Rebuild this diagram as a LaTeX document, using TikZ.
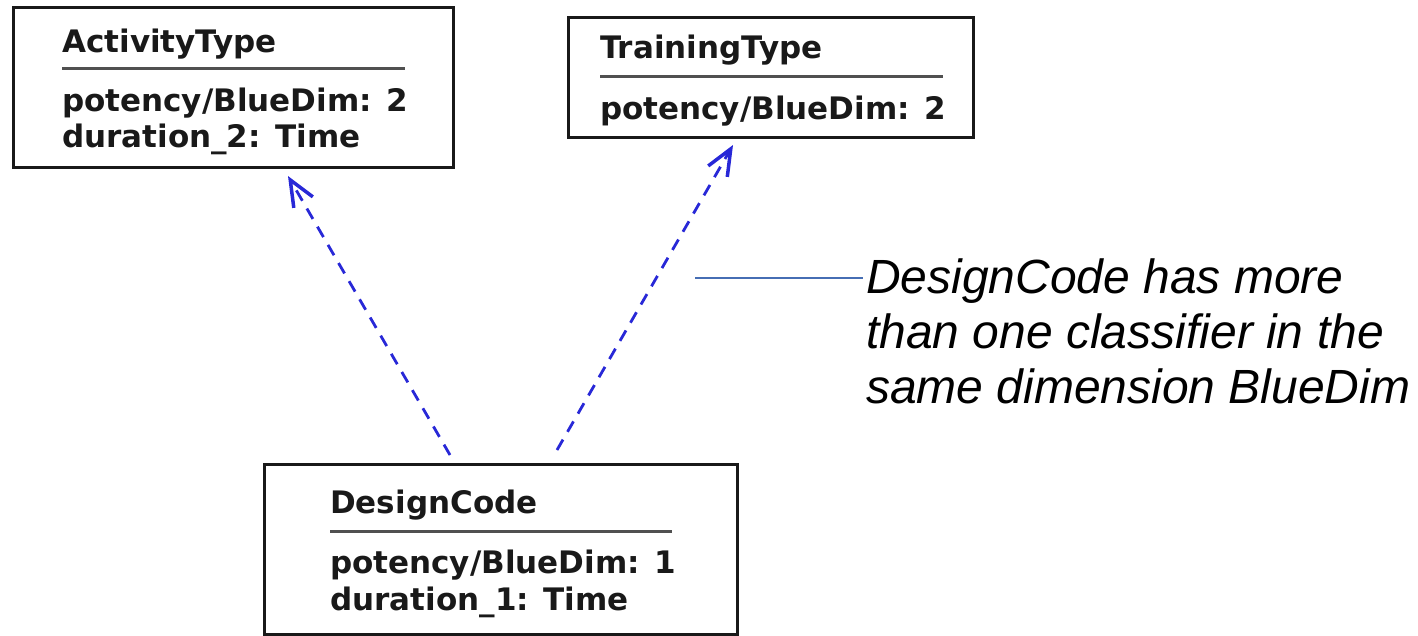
\documentclass[tikz,border=0pt]{standalone}
\usepackage{fontspec}
\newfontfamily\classfont{DejaVu Sans}
\newfontfamily\notefont{Liberation Sans}
\usetikzlibrary{arrows.meta,calc}
\definecolor{depblue}{RGB}{40,40,215}
\definecolor{leadblue}{RGB}{70,110,180}
\definecolor{framegray}{RGB}{25,25,25}
\definecolor{rulegray}{RGB}{80,80,80}
\tikzset{
  classbox/.style={draw=framegray, line width=3pt, anchor=north west, inner sep=0pt},
  classtext/.style={anchor=base west, inner sep=0pt, font=\classfont\bfseries\fontsize{31}{37}\selectfont, text=black!90},
  sectionrule/.style={draw=rulegray, line width=3pt},
  dependency/.style={draw=depblue, line width=2.8pt, dash pattern=on 12pt off 9pt,
    -{Straight Barb[length=26pt,width=22pt,line width=3.5pt]}},
  notetext/.style={anchor=north west, inner sep=0pt, align=left,
    font=\notefont\itshape\fontsize{48}{55}\selectfont},
  leader/.style={draw=leadblue, line width=1.3pt}
}
\begin{document}
\begin{tikzpicture}[x=1pt,y=-1pt]
\useasboundingbox (0,0) rectangle (1418,635);

% class boxes
\node[classbox, minimum width=440pt, minimum height=160pt] (at) at (12,6) {};
\node[classbox, minimum width=405pt, minimum height=120pt] (tt) at (567,16) {};
\node[classbox, minimum width=473pt, minimum height=170pt] (dc) at (263,463) {};

% ActivityType
\node[classtext] (atname) at (62,52) {ActivityType};
\draw[sectionrule] (62,68) -- (405,68);
\node[classtext] (atpot) at (62,111) {potency/BlueDim: 2};
\node[classtext] (atdur) at (62,147) {duration\_2: Time};

% TrainingType
\node[classtext] (ttname) at (600,58) {TrainingType};
\draw[sectionrule] (600,76) -- (943,76);
\node[classtext] (ttpot) at (600,119) {potency/BlueDim: 2};

% DesignCode
\node[classtext] (dcname) at (330,513) {DesignCode};
\draw[sectionrule] (330,531) -- (672,531);
\node[classtext] (dcpot) at (330,573) {potency/BlueDim: 1};
\node[classtext] (dcdur) at (330,610) {duration\_1: Time};

% dependency end points (canvas y points up)
\coordinate (s1) at ([xshift=187pt,yshift=8pt]dc.north west);
\coordinate (e1) at ([xshift=276pt,yshift=-7pt]at.south west);
\coordinate (s2) at ([xshift=294pt,yshift=13pt]dc.north west);
\coordinate (e2) at ([xshift=166pt,yshift=-6pt]tt.south west);
\draw[dependency] (s1) -- (e1);
\draw[dependency] (s2) -- (e2);

% note
\node[notetext] (note) at (866,259) {DesignCode has more\\than one classifier in the\\same dimension BlueDim};
\coordinate (lead) at (695,278);
\draw[leader] (lead) -- ([xshift=-3pt]lead -| note.west);
\end{tikzpicture}
\end{document}
